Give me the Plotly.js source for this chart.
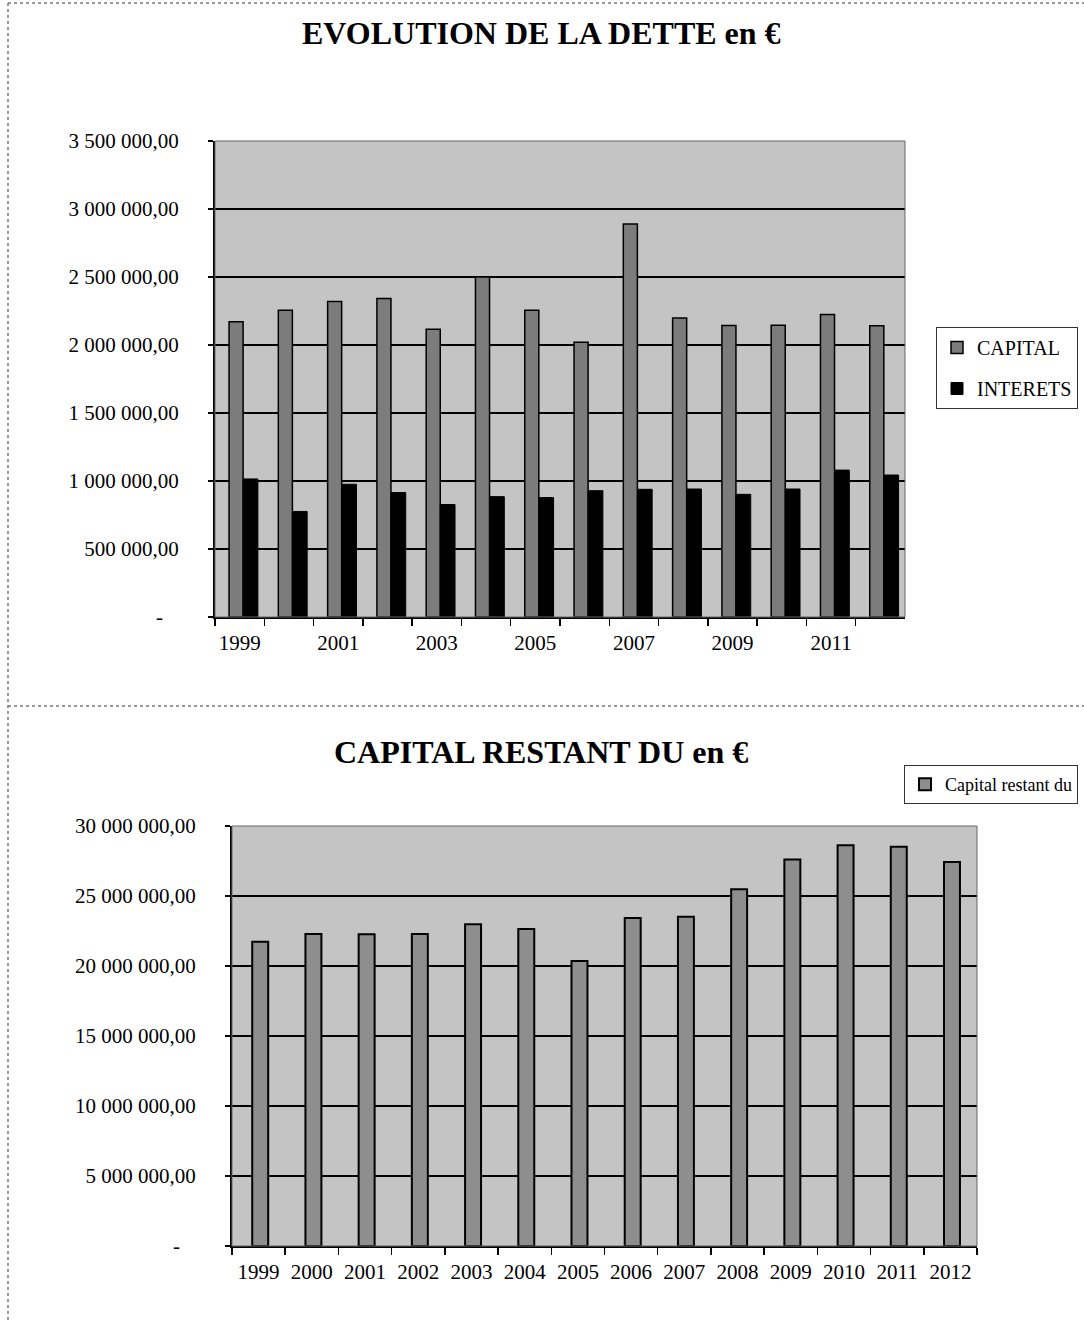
<!DOCTYPE html>
<html>
<head>
<meta charset="utf-8">
<script src="https://cdn.plot.ly/plotly-3.0.1.min.js"></script>
<style>
html,body{margin:0;padding:0;background:#fff;overflow:hidden;width:1084px;height:1320px;}
#chart{width:1084px;height:1320px;position:absolute;left:0;top:0;}
</style>
</head>
<body>
<div id="chart"></div>
<script>
// ---- Data ----
const years = ['1999','2000','2001','2002','2003','2004','2005','2006','2007','2008','2009','2010','2011','2012'];
const capital = [2171000, 2256000, 2320000, 2341000, 2115000, 2500000, 2256000, 2020000, 2890000, 2198000, 2144000, 2146000, 2224000, 2141000];
const interets = [1015000, 776000, 976000, 915000, 827000, 885000, 878000, 929000, 939000, 941000, 902000, 941000, 1080000, 1044000];
const capitalRestant = [21740000, 22290000, 22260000, 22290000, 22980000, 22640000, 20360000, 23430000, 23520000, 25480000, 27600000, 28620000, 28520000, 27430000];

const xTickText1 = ['1999','','2001','','2003','','2005','','2007','','2009','','2011',''];
const yTickVals1 = [0, 500000, 1000000, 1500000, 2000000, 2500000, 3000000, 3500000];
const yTickText1 = ['-\u00a0\u00a0\u00a0', '500 000,00', '1 000 000,00', '1 500 000,00', '2 000 000,00', '2 500 000,00', '3 000 000,00', '3 500 000,00'];
const yTickVals2 = [0, 5000000, 10000000, 15000000, 20000000, 25000000, 30000000];
const yTickText2 = ['-\u00a0\u00a0\u00a0', '5 000 000,00', '10 000 000,00', '15 000 000,00', '20 000 000,00', '25 000 000,00', '30 000 000,00'];

const W = 1084, H = 1320;
const px = v => v / W;
const py = v => 1 - v / H;
const serif = 'Liberation Serif, Times New Roman, serif';
const tickFont = {family: serif, size: 21, color: '#000'};

const traces = [
  {type: 'bar', name: 'CAPITAL', x: years, y: capital, xaxis: 'x', yaxis: 'y',
   width: 0.285, offset: -0.215,
   marker: {color: '#7c7c7c', line: {color: '#000', width: 1.5}},
   legend: 'legend', legendgroup: 'a'},
  {type: 'bar', name: 'INTERETS', x: years, y: interets, xaxis: 'x', yaxis: 'y',
   width: 0.30, offset: 0.07,
   marker: {color: '#000', line: {color: '#000', width: 1}},
   legend: 'legend', legendgroup: 'b'},
  {type: 'bar', name: 'Capital restant du', x: years, y: capitalRestant, xaxis: 'x2', yaxis: 'y2',
   width: 0.30, offset: -0.12,
   marker: {color: '#8e8e8e', line: {color: '#000', width: 2}},
   legend: 'legend2'}
];

const layout = {
  width: W, height: H, autosize: false,
  margin: {l: 0, r: 0, t: 0, b: 0},
  paper_bgcolor: '#fff',
  plot_bgcolor: '#c4c4c4',
  barmode: 'group',
  showlegend: true,
  font: {family: serif, color: '#000'},
  xaxis: {
    domain: [px(215), px(905)], anchor: 'y',
    type: 'category', tickmode: 'array', tickvals: years, ticktext: xTickText1,
    tickson: 'boundaries', ticks: 'outside', ticklen: 7, tickcolor: '#000', tickwidth: 1.5,
    tickangle: 0, ticklabelstandoff: 6,
    showline: true, linecolor: '#000', linewidth: 2, showgrid: false,
    tickfont: tickFont, fixedrange: true
  },
  yaxis: {
    domain: [py(617), py(141)], anchor: 'x',
    range: [0, 3500000], tickmode: 'array', tickvals: yTickVals1, ticktext: yTickText1,
    ticks: 'outside', ticklen: 5, tickcolor: '#000', tickwidth: 1.5,
    ticklabelstandoff: 25,
    showline: true, linecolor: '#000', linewidth: 2,
    showgrid: true, gridcolor: '#000', gridwidth: 2, zeroline: false,
    tickfont: tickFont, fixedrange: true
  },
  xaxis2: {
    domain: [px(232), px(977)], anchor: 'y2',
    type: 'category', tickmode: 'array', tickvals: years, ticktext: years,
    tickson: 'boundaries', ticks: 'outside', ticklen: 7, tickcolor: '#000', tickwidth: 1.5,
    tickangle: 0, ticklabelstandoff: 6,
    showline: true, linecolor: '#000', linewidth: 2, showgrid: false,
    tickfont: tickFont, fixedrange: true
  },
  yaxis2: {
    domain: [py(1246), py(826)], anchor: 'x2',
    range: [0, 30000000], tickmode: 'array', tickvals: yTickVals2, ticktext: yTickText2,
    ticks: 'outside', ticklen: 5, tickcolor: '#000', tickwidth: 1.5,
    ticklabelstandoff: 25,
    showline: true, linecolor: '#000', linewidth: 2,
    showgrid: true, gridcolor: '#000', gridwidth: 2, zeroline: false,
    tickfont: tickFont, fixedrange: true
  },
  legend: {
    x: px(1078), y: py(327), xanchor: 'right', yanchor: 'top',
    bgcolor: '#fff', bordercolor: '#333', borderwidth: 1,
    font: {family: serif, size: 20, color: '#000'},
    traceorder: 'grouped', tracegroupgap: 12,
    itemwidth: 30
  },
  legend2: {
    x: px(1078), y: py(765), xanchor: 'right', yanchor: 'top',
    bgcolor: '#fff', bordercolor: '#333', borderwidth: 1,
    font: {family: serif, size: 18, color: '#000'},
    itemwidth: 30
  },
  annotations: [
    {text: '<b>EVOLUTION DE LA DETTE en €</b>', xref: 'paper', yref: 'paper',
     x: px(541), y: py(33), xanchor: 'center', yanchor: 'middle', showarrow: false,
     font: {family: serif, size: 32, color: '#000'}},
    {text: '<b>CAPITAL RESTANT DU en €</b>', xref: 'paper', yref: 'paper',
     x: px(541), y: py(752), xanchor: 'center', yanchor: 'middle', showarrow: false,
     font: {family: serif, size: 32, color: '#000'}}
  ],
  shapes: [
    {type: 'line', xref: 'paper', yref: 'paper', x0: px(8), x1: 1, y0: py(3), y1: py(3),
     line: {color: '#777', width: 1.5, dash: 'dot'}},
    {type: 'line', xref: 'paper', yref: 'paper', x0: px(8), x1: px(8), y0: py(3), y1: 0,
     line: {color: '#777', width: 1.5, dash: 'dot'}},
    {type: 'line', xref: 'paper', yref: 'paper', x0: px(8), x1: 1, y0: py(706), y1: py(706),
     line: {color: '#777', width: 1.5, dash: 'dot'}},
    {type: 'rect', xref: 'x domain', yref: 'y domain', x0: 0, x1: 1, y0: 0, y1: 1,
     line: {color: '#666', width: 1}, layer: 'above'},
    {type: 'rect', xref: 'x2 domain', yref: 'y2 domain', x0: 0, x1: 1, y0: 0, y1: 1,
     line: {color: '#666', width: 1}, layer: 'above'}
  ]
};

Plotly.newPlot('chart', traces, layout, {displayModeBar: false, staticPlot: true, responsive: false});
</script>
</body>
</html>
